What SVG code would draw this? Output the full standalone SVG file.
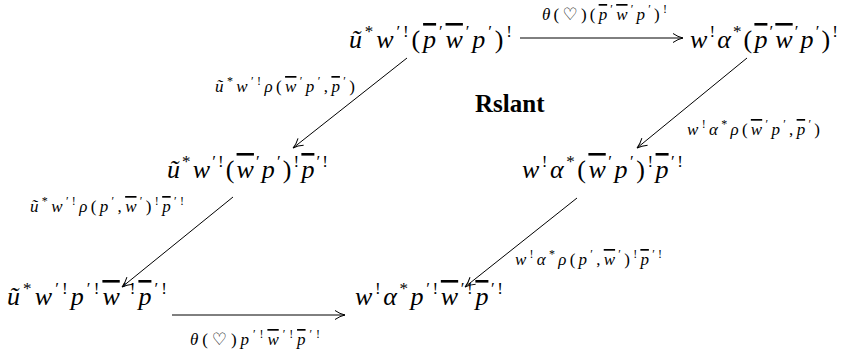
<svg xmlns="http://www.w3.org/2000/svg" width="851" height="352" viewBox="0 0 851 352">
<defs>
<style>
text { font-family: "Liberation Serif", "DejaVu Serif", "DejaVu Sans", serif; fill: #000; }
.n { font-size: 26px; }
.n .s { font-size: 17px; }
.l { font-size: 17px; }
.l .s { font-size: 12px; }
.i { font-style: italic; }
.o { text-decoration: overline; }
.b { font-size: 25px; font-weight: bold; }
.e { stroke: #000; stroke-width: 1; fill: none; marker-end: url(#ah); }
</style>
<marker id="ah" viewBox="0 0 12 10" refX="11" refY="5" markerWidth="12" markerHeight="10" markerUnits="userSpaceOnUse" orient="auto">
<path d="M1,0.5 Q6,4 11,5 Q6,6 1,9.5" fill="none" stroke="#000" stroke-width="1"/>
</marker>
</defs>
<rect width="851" height="352" fill="#fff"/>
<g id="connectors">
<line class="e" x1="520" y1="38" x2="683" y2="38"/>
<line class="e" x1="407" y1="58" x2="293" y2="148"/>
<line class="e" x1="747" y1="58" x2="637" y2="148"/>
<line class="e" x1="233" y1="197" x2="122" y2="287"/>
<line class="e" x1="577" y1="198" x2="465" y2="287"/>
<line class="e" x1="172" y1="315" x2="345" y2="315"/>
<text class="l" x="542" y="20" textLength="125" lengthAdjust="spacing"><tspan class="i">θ</tspan>(♡)(<tspan class="i o">p</tspan><tspan class="s" dy="-7">′</tspan><tspan class="i o" dy="7">w</tspan><tspan class="s" dy="-7">′</tspan><tspan class="i" dy="7">p</tspan><tspan class="s" dy="-7">′</tspan><tspan dy="7">)</tspan><tspan class="s" dy="-7">!</tspan></text>
<text class="l" x="215" y="92" textLength="140" lengthAdjust="spacing"><tspan class="i">ũ</tspan><tspan class="s" dy="-7">*</tspan><tspan class="i" dy="7">w</tspan><tspan class="s" dy="-7">′!</tspan><tspan class="i" dy="7">ρ</tspan>(<tspan class="i o">w</tspan><tspan class="s" dy="-7">′</tspan><tspan class="i" dy="7">p</tspan><tspan class="s" dy="-7">′</tspan><tspan dy="7">,</tspan><tspan class="i o">p</tspan><tspan class="s" dy="-7">′</tspan><tspan dy="7">)</tspan></text>
<text class="l" x="687" y="135" textLength="133" lengthAdjust="spacing"><tspan class="i">w</tspan><tspan class="s" dy="-7">!</tspan><tspan class="i" dy="7">α</tspan><tspan class="s" dy="-7">*</tspan><tspan class="i" dy="7">ρ</tspan>(<tspan class="i o">w</tspan><tspan class="s" dy="-7">′</tspan><tspan class="i" dy="7">p</tspan><tspan class="s" dy="-7">′</tspan><tspan dy="7">,</tspan><tspan class="i o">p</tspan><tspan class="s" dy="-7">′</tspan><tspan dy="7">)</tspan></text>
<text class="l" x="30" y="212" textLength="154" lengthAdjust="spacing"><tspan class="i">ũ</tspan><tspan class="s" dy="-7">*</tspan><tspan class="i" dy="7">w</tspan><tspan class="s" dy="-7">′!</tspan><tspan class="i" dy="7">ρ</tspan>(<tspan class="i">p</tspan><tspan class="s" dy="-7">′</tspan><tspan dy="7">,</tspan><tspan class="i o">w</tspan><tspan class="s" dy="-7">′</tspan><tspan dy="7">)</tspan><tspan class="s" dy="-7">!</tspan><tspan class="i o" dy="7">p</tspan><tspan class="s" dy="-7">′!</tspan></text>
<text class="l" x="515" y="265" textLength="147" lengthAdjust="spacing"><tspan class="i">w</tspan><tspan class="s" dy="-7">!</tspan><tspan class="i" dy="7">α</tspan><tspan class="s" dy="-7">*</tspan><tspan class="i" dy="7">ρ</tspan>(<tspan class="i">p</tspan><tspan class="s" dy="-7">′</tspan><tspan dy="7">,</tspan><tspan class="i o">w</tspan><tspan class="s" dy="-7">′</tspan><tspan dy="7">)</tspan><tspan class="s" dy="-7">!</tspan><tspan class="i o" dy="7">p</tspan><tspan class="s" dy="-7">′!</tspan></text>
<text class="l" x="190" y="345" textLength="130" lengthAdjust="spacing"><tspan class="i">θ</tspan>(♡)<tspan class="i">p</tspan><tspan class="s" dy="-7">′!</tspan><tspan class="i o" dy="7">w</tspan><tspan class="s" dy="-7">′!</tspan><tspan class="i o" dy="7">p</tspan><tspan class="s" dy="-7">′!</tspan></text>
</g>
<g id="n1"><text class="n" x="349" y="48" textLength="163" lengthAdjust="spacing"><tspan class="i">ũ</tspan><tspan class="s" dy="-11">*</tspan><tspan class="i" dy="11">w</tspan><tspan class="s" dy="-11">′!</tspan><tspan dy="11">(</tspan><tspan class="i o">p</tspan><tspan class="s" dy="-11">′</tspan><tspan class="i o" dy="11">w</tspan><tspan class="s" dy="-11">′</tspan><tspan class="i" dy="11">p</tspan><tspan class="s" dy="-11">′</tspan><tspan dy="11">)</tspan><tspan class="s" dy="-11">!</tspan></text></g>
<g id="n2"><text class="n" x="690" y="48" textLength="148" lengthAdjust="spacing"><tspan class="i">w</tspan><tspan class="s" dy="-11">!</tspan><tspan class="i" dy="11">α</tspan><tspan class="s" dy="-11">*</tspan><tspan dy="11">(</tspan><tspan class="i o">p</tspan><tspan class="s" dy="-11">′</tspan><tspan class="i o" dy="11">w</tspan><tspan class="s" dy="-11">′</tspan><tspan class="i" dy="11">p</tspan><tspan class="s" dy="-11">′</tspan><tspan dy="11">)</tspan><tspan class="s" dy="-11">!</tspan></text></g>
<g id="n3"><text class="n" x="167" y="178" textLength="161" lengthAdjust="spacing"><tspan class="i">ũ</tspan><tspan class="s" dy="-11">*</tspan><tspan class="i" dy="11">w</tspan><tspan class="s" dy="-11">′!</tspan><tspan dy="11">(</tspan><tspan class="i o">w</tspan><tspan class="s" dy="-11">′</tspan><tspan class="i" dy="11">p</tspan><tspan class="s" dy="-11">′</tspan><tspan dy="11">)</tspan><tspan class="s" dy="-11">!</tspan><tspan class="i o" dy="11">p</tspan><tspan class="s" dy="-11">′!</tspan></text></g>
<g id="n4"><text class="n" x="522" y="178" textLength="161" lengthAdjust="spacing"><tspan class="i">w</tspan><tspan class="s" dy="-11">!</tspan><tspan class="i" dy="11">α</tspan><tspan class="s" dy="-11">*</tspan><tspan dy="11">(</tspan><tspan class="i o">w</tspan><tspan class="s" dy="-11">′</tspan><tspan class="i" dy="11">p</tspan><tspan class="s" dy="-11">′</tspan><tspan dy="11">)</tspan><tspan class="s" dy="-11">!</tspan><tspan class="i o" dy="11">p</tspan><tspan class="s" dy="-11">′!</tspan></text></g>
<g id="n5"><text class="n" x="7" y="305" textLength="160" lengthAdjust="spacing"><tspan class="i">ũ</tspan><tspan class="s" dy="-11">*</tspan><tspan class="i" dy="11">w</tspan><tspan class="s" dy="-11">′!</tspan><tspan class="i" dy="11">p</tspan><tspan class="s" dy="-11">′!</tspan><tspan class="i o" dy="11">w</tspan><tspan class="s" dy="-11">′!</tspan><tspan class="i o" dy="11">p</tspan><tspan class="s" dy="-11">′!</tspan></text></g>
<g id="n6"><text class="n" x="355" y="305" textLength="148" lengthAdjust="spacing"><tspan class="i">w</tspan><tspan class="s" dy="-11">!</tspan><tspan class="i" dy="11">α</tspan><tspan class="s" dy="-11">*</tspan><tspan class="i" dy="11">p</tspan><tspan class="s" dy="-11">′!</tspan><tspan class="i o" dy="11">w</tspan><tspan class="s" dy="-11">′!</tspan><tspan class="i o" dy="11">p</tspan><tspan class="s" dy="-11">′!</tspan></text></g>
<g id="title"><text class="b" x="475" y="112">Rslant</text></g>
</svg>
